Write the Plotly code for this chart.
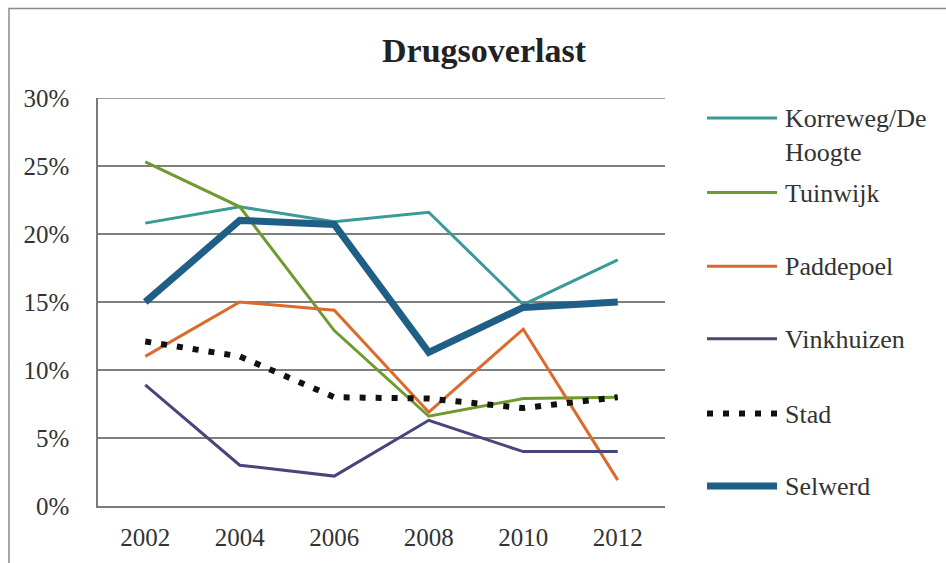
import plotly.graph_objects as go

years = ["2002", "2004", "2006", "2008", "2010", "2012"]
korreweg = [20.8, 22.0, 20.9, 21.6, 14.8, 18.1]
tuinwijk = [25.3, 22.0, 12.9, 6.6, 7.9, 8.0]
paddepoel = [11.0, 15.0, 14.4, 6.9, 13.0, 1.9]
vinkhuizen = [8.9, 3.0, 2.2, 6.3, 4.0, 4.0]
stad = [12.1, 11.0, 8.0, 7.9, 7.2, 8.0]
selwerd = [15.0, 21.0, 20.7, 11.3, 14.6, 15.0]
y_ticks = [0, 5, 10, 15, 20, 25, 30]
y_tick_labels = ["0%", "5%", "10%", "15%", "20%", "25%", "30%"]

series = [
    ("Korreweg/De<br>Hoogte", korreweg, "#3a9a96", 3, "solid"),
    ("Tuinwijk", tuinwijk, "#6e9a2e", 3, "solid"),
    ("Paddepoel", paddepoel, "#dc6a2c", 3, "solid"),
    ("Vinkhuizen", vinkhuizen, "#48457a", 3, "solid"),
    ("Stad", stad, "#111111", 6, "6px,10px"),
    ("Selwerd", selwerd, "#1f5f85", 7, "solid"),
]

W, H = 946, 563
L, R, T, B = 98, 665, 98, 508
pw, ph = R - L, B - T

fig = go.Figure()
for name, vals, color, width, dash in series:
    fig.add_trace(go.Scatter(
        x=years, y=vals, mode="lines", name=name.replace("<br>", " "),
        line=dict(color=color, width=width, dash=dash),
        showlegend=False,
    ))

def px_x(p):
    return (p - L) / pw

def px_y(p):
    return (B - p) / ph

shapes = []
annotations = []
# outer chart frame
shapes.append(dict(type="rect", xref="paper", yref="paper",
                   x0=px_x(9), x1=px_x(960), y0=px_y(575), y1=px_y(8),
                   line=dict(color="#8a8a8a", width=1.5), fillcolor="rgba(0,0,0,0)", layer="below"))
# top gridline at 30%
shapes.append(dict(type="line", xref="paper", yref="y", x0=0, x1=1,
                   y0=y_ticks[-1], y1=y_ticks[-1],
                   line=dict(color="#7f7f7f", width=1.5), layer="below"))

# manual legend
legend_y = [118, 193, 267, 340, 415, 488]
for (name, vals, color, width, dash), ly in zip(series, legend_y):
    shapes.append(dict(type="line", xref="paper", yref="paper",
                       x0=px_x(707), x1=px_x(777), y0=px_y(ly), y1=px_y(ly),
                       line=dict(color=color, width=width if dash == "solid" else 6,
                                 dash=dash if dash != "solid" else None)))
    annotations.append(dict(xref="paper", yref="paper", x=px_x(783), y=px_y(ly - 16),
                            text=name, showarrow=False, xanchor="left", yanchor="top",
                            align="left",
                            font=dict(family="Liberation Serif", size=26, color="#333333")))

fig.update_layout(
    width=W, height=H,
    margin=dict(l=L, r=W - R, t=T, b=H - B),
    paper_bgcolor="white", plot_bgcolor="white",
    title=dict(text="<b>Drugsoverlast</b>", x=484 / W, xanchor="center",
               y=1 - 50 / H, yanchor="middle", yref="container",
               font=dict(family="Liberation Serif", size=34, color="#222222")),
    xaxis=dict(type="category", range=[-0.5, 5.5], showgrid=False,
               showline=True, linecolor="#7a7a7a", linewidth=1.5,
               ticks="", ticklabelstandoff=8,
               tickfont=dict(family="Liberation Serif", size=25, color="#333333")),
    yaxis=dict(range=[0, 30], tickvals=y_ticks, ticktext=y_tick_labels,
               showgrid=True, gridcolor="#7f7f7f", gridwidth=1.5,
               showline=True, linecolor="#7a7a7a", linewidth=1.5,
               zeroline=False, ticks="", ticklabelstandoff=22,
               tickfont=dict(family="Liberation Serif", size=25, color="#333333")),
    shapes=shapes, annotations=annotations,
)

fig.write_html("out.html")
